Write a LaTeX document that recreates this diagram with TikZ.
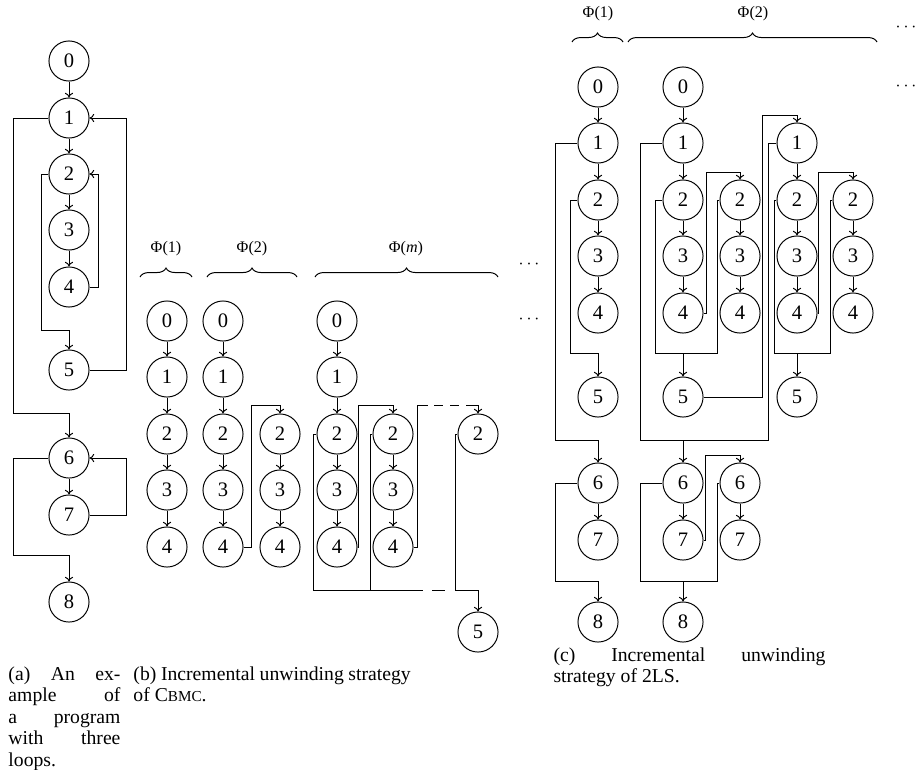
\documentclass[tikz,border=0pt]{standalone}
\usepackage{fontspec}
\setmainfont{Liberation Serif}
\usetikzlibrary{decorations.pathreplacing, arrows.meta}

\tikzset{
  loc/.style={circle, draw, minimum size=22.4pt, inner sep=0pt, font=\fontsize{11.5}{13}\selectfont},
  phase/.style={inner sep=0pt, font=\fontsize{9}{11}\selectfont},
  ubrace/.style={decorate, decoration={brace, amplitude=5pt}},
  capt/.style={anchor=north west, inner sep=0pt, align=justify, font=\fontsize{11}{12}\selectfont},
  gapline/.style={dash pattern=on 5pt off 4pt},
}

\begin{document}
\begin{tikzpicture}[x=0.559pt, y=-0.559pt, >={To[length=2.6pt, width=4.6pt]}, line width=0.55pt]
\useasboundingbox (0,0) rectangle (923,769);

% (a) the program
\node[loc] (a0) at (69,61) {0};
\node[loc] (a1) at (69,118) {1};
\node[loc] (a2) at (69,174) {2};
\node[loc] (a3) at (69,230) {3};
\node[loc] (a4) at (69,287) {4};
\node[loc] (a5) at (69,370) {5};
\node[loc] (a6) at (69,458) {6};
\node[loc] (a7) at (69,515) {7};
\node[loc] (a8) at (69,602) {8};

\draw[->] (a0) -- (a1);
\draw[->] (a1) -- (a2);
\draw[->] (a2) -- (a3);
\draw[->] (a3) -- (a4);
\draw[->] (a6) -- (a7);
\draw[->] (a1.west) -| (13,413) -| (a6);
\draw[->] (a2.west) -| (41,330) -| (a5);
\draw[->] (a4.east) -| (98,174) -- (a2.east);
\draw[->] (a5.east) -| (126,118) -- (a1.east);
\draw[->] (a6.west) -| (13,555) -| (a8);
\draw[->] (a7.east) -| (126,458) -- (a6.east);

\node[capt, text width=62.6pt] (capa) at (8,666)
  {(a) An ex-\linebreak ample of\linebreak a program\linebreak with three\linebreak loops.};

% (b) unwinding of CBMC
\node[phase] (bphi1) at (166,249) {Φ(1)};
\node[phase] (bphi2) at (252,249) {Φ(2)};
\node[phase] (bphim) at (406,249) {Φ(\textit{m})};
\draw[ubrace] (140,277) -- (192,277);
\draw[ubrace] (207,277) -- (297,277);
\draw[ubrace] (315,277) -- (498,277);
\node (bdots1) at (529,265) {$\cdots$};
\node (bdots2) at (529,320) {$\cdots$};

\node[loc] (ba0) at (167,321) {0};
\node[loc] (ba1) at (167,377) {1};
\node[loc] (ba2) at (167,434) {2};
\node[loc] (ba3) at (167,490) {3};
\node[loc] (ba4) at (167,547) {4};

\node[loc] (bb0) at (223,321) {0};
\node[loc] (bb1) at (223,377) {1};
\node[loc] (bb2) at (223,434) {2};
\node[loc] (bb3) at (223,490) {3};
\node[loc] (bb4) at (223,547) {4};
\node[loc] (bc2) at (280,434) {2};
\node[loc] (bc3) at (280,490) {3};
\node[loc] (bc4) at (280,547) {4};

\node[loc] (bd0) at (337,321) {0};
\node[loc] (bd1) at (337,377) {1};
\node[loc] (bd2) at (337,434) {2};
\node[loc] (bd3) at (337,490) {3};
\node[loc] (bd4) at (337,547) {4};
\node[loc] (be2) at (393,434) {2};
\node[loc] (be3) at (393,490) {3};
\node[loc] (be4) at (393,547) {4};
\node[loc] (bf2) at (478,434) {2};
\node[loc] (b5) at (478,632) {5};

\draw[->] (ba0) -- (ba1);
\draw[->] (ba1) -- (ba2);
\draw[->] (ba2) -- (ba3);
\draw[->] (ba3) -- (ba4);

\draw[->] (bb0) -- (bb1);
\draw[->] (bb1) -- (bb2);
\draw[->] (bb2) -- (bb3);
\draw[->] (bb3) -- (bb4);
\draw[->] (bc2) -- (bc3);
\draw[->] (bc3) -- (bc4);
\draw[->] (bb4.east) -| (251,405) -| (bc2);

\draw[->] (bd0) -- (bd1);
\draw[->] (bd1) -- (bd2);
\draw[->] (bd2) -- (bd3);
\draw[->] (bd3) -- (bd4);
\draw[->] (be2) -- (be3);
\draw[->] (be3) -- (be4);
\draw[->] (bd4.east) -| (358,405) -| (be2);
\draw (be4.east) -| (417,405) -- (428,405);
\draw[gapline] (434,405) -- (472,405);
\draw[->] (472,405) -| (bf2);
\draw (bd2.west) -| (313,590) -- (423,590);
\draw (be2.west) -| (370,590);
\draw (432,590) -- (445,590);
\draw[->] (bf2.west) -| (455,590) -| (b5);

\node[capt, text width=155pt] (capb) at (133,666)
  {(b) Incremental unwinding strategy\linebreak of C{\fontsize{8.5}{10}\selectfont BMC}.};

% (c) unwinding of 2LS
\node[phase] (cphi1) at (598,14) {Φ(1)};
\node[phase] (cphi2) at (753,14) {Φ(2)};
\draw[ubrace] (572,42) -- (623,42);
\draw[ubrace] (628,42) -- (877,42);
\node (cdots1) at (906,28) {$\cdots$};
\node (cdots2) at (906,87) {$\cdots$};

\node[loc] (ca0) at (598,87) {0};
\node[loc] (ca1) at (598,143) {1};
\node[loc] (ca2) at (598,200) {2};
\node[loc] (ca3) at (598,256) {3};
\node[loc] (ca4) at (598,313) {4};
\node[loc] (ca5) at (598,397) {5};
\node[loc] (ca6) at (598,483) {6};
\node[loc] (ca7) at (598,540) {7};
\node[loc] (ca8) at (598,622) {8};

\draw[->] (ca0) -- (ca1);
\draw[->] (ca1) -- (ca2);
\draw[->] (ca2) -- (ca3);
\draw[->] (ca3) -- (ca4);
\draw[->] (ca6) -- (ca7);
\draw[->] (ca1.west) -| (555,440) -| (ca6);
\draw[->] (ca2.west) -| (570,353) -| (ca5);
\draw[->] (ca6.west) -| (555,581) -| (ca8);

\node[loc] (cb0) at (683,87) {0};
\node[loc] (cb1) at (683,143) {1};
\node[loc] (cb2) at (683,200) {2};
\node[loc] (cb3) at (683,256) {3};
\node[loc] (cb4) at (683,313) {4};
\node[loc] (cb5) at (683,397) {5};
\node[loc] (cb6) at (683,483) {6};
\node[loc] (cb7) at (683,540) {7};
\node[loc] (cb8) at (683,622) {8};
\node[loc] (cc2) at (740,200) {2};
\node[loc] (cc3) at (740,256) {3};
\node[loc] (cc4) at (740,313) {4};
\node[loc] (cc6) at (740,483) {6};
\node[loc] (cc7) at (740,540) {7};
\node[loc] (cd1) at (797,143) {1};
\node[loc] (cd2) at (797,200) {2};
\node[loc] (cd3) at (797,256) {3};
\node[loc] (cd4) at (797,313) {4};
\node[loc] (cd5) at (797,397) {5};
\node[loc] (ce2) at (853,200) {2};
\node[loc] (ce3) at (853,256) {3};
\node[loc] (ce4) at (853,313) {4};

\draw[->] (cb0) -- (cb1);
\draw[->] (cb1) -- (cb2);
\draw[->] (cb2) -- (cb3);
\draw[->] (cb3) -- (cb4);
\draw[->] (cc2) -- (cc3);
\draw[->] (cc3) -- (cc4);
\draw[->] (cb4.east) -| (706,172) -| (cc2);
\draw[->] (cb2.west) -| (655,353) -| (cb5);
\draw (cc2.west) -| (717,353) -- (683,353);
\draw[->] (cb5.east) -| (762,115) -| (cd1);
\draw[->] (cd1) -- (cd2);
\draw[->] (cd2) -- (cd3);
\draw[->] (cd3) -- (cd4);
\draw[->] (ce2) -- (ce3);
\draw[->] (ce3) -- (ce4);
\draw[->] (cd4.east) -| (818,172) -| (ce2);
\draw[->] (cd2.west) -| (774,353) -| (cd5);
\draw (ce2.west) -| (830,353) -- (797,353);
\draw[->] (cb1.west) -| (640,440) -| (cb6);
\draw (cd1.west) -| (768,440) -- (683,440);
\draw[->] (cb6) -- (cb7);
\draw[->] (cc6) -- (cc7);
\draw[->] (cb7.east) -| (705,455) -| (cc6);
\draw[->] (cb6.west) -| (640,581) -| (cb8);
\draw (cc6.west) -| (717,581) -- (683,581);

\node[capt, text width=152pt] (capc) at (553,647)
  {(c) Incremental unwinding\linebreak strategy of 2LS.};

\end{tikzpicture}
\end{document}
